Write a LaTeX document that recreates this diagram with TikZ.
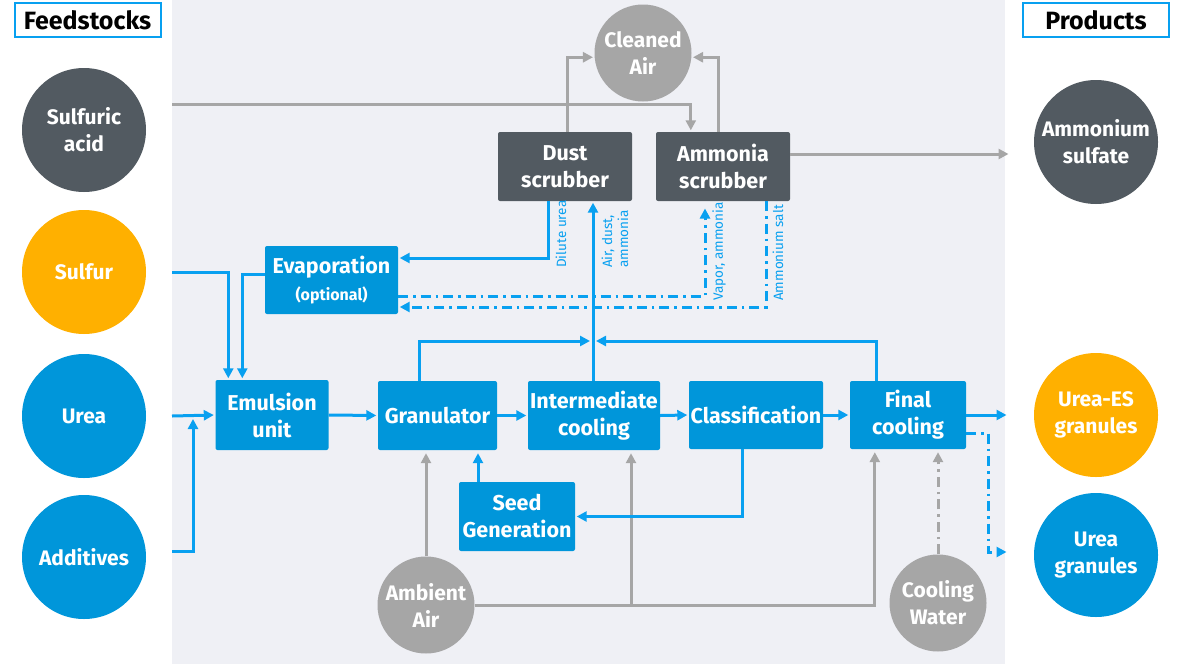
\documentclass[tikz,border=0pt]{standalone}
\usepackage{fontspec}
\setmainfont{Fira Sans}
\usetikzlibrary{arrows.meta,calc}
\definecolor{boxblue}{RGB}{0,150,218}
\definecolor{lineblue}{RGB}{8,160,240}
\definecolor{dgray}{RGB}{82,90,97}
\definecolor{lgray}{RGB}{166,166,166}
\definecolor{orng}{RGB}{255,176,0}
\definecolor{bgc}{RGB}{239,240,245}
\begin{document}
\begin{tikzpicture}[x=1pt,y=-1pt,
  box/.style={fill=boxblue, rounded corners=2pt, text=white, align=center, inner sep=0pt,
    font=\bfseries\fontsize{21.5}{27}\selectfont},
  dbox/.style={box, fill=dgray},
  circ/.style={circle, minimum size=124pt, inner sep=0pt, text=white, align=center,
    font=\bfseries\fontsize{21}{27}\selectfont},
  scirc/.style={circ, minimum size=97pt, fill=lgray},
  hdr/.style={draw=lineblue, line width=2pt, fill=white, minimum width=146pt, minimum height=34pt,
    inner sep=0pt, font=\bfseries\fontsize{25}{28}\selectfont},
  bline/.style={draw=lineblue, line width=3pt},
  barrow/.style={bline, shorten >=1.5pt, -{Triangle[length=10pt,width=10pt]}},
  bdd/.style={barrow, dash pattern=on 10pt off 5pt on 2.5pt off 5pt},
  garrow/.style={draw=lgray, line width=3pt, shorten >=1.5pt, -{Triangle[length=10pt,width=10pt]}},
  gdd/.style={garrow, dash pattern=on 10pt off 5pt on 2.5pt off 5pt},
  lbl/.style={text=lineblue, rotate=90, anchor=west, align=left, inner sep=0pt,
    font=\fontsize{13.5}{16}\selectfont}
]
\useasboundingbox (0,0) rectangle (1180,664);
\fill[white] (0,0) rectangle (1180,664);
\fill[bgc] (172,0) rectangle (1005,664);

% headers
\node[hdr] (feed) at (87.5,20) {Feedstocks};
\node[hdr] (prod) at (1096,20) {Products};

% feed circles
\node[circ, fill=dgray] (sacid) at (84,130) {Sulfuric\\acid};
\node[circ, fill=orng] (sulfur) at (84,272) {Sulfur};
\node[circ, fill=boxblue] (urea) at (84,416) {Urea};
\node[circ, fill=boxblue] (addit) at (84,557) {Additives};
% product circles
\node[circ, fill=dgray] (amsulf) at (1096,142) {Ammonium\\sulfate};
\node[circ, fill=orng] (ureaes) at (1096,415) {Urea-ES\\granules};
\node[circ, fill=boxblue] (ureagr) at (1096,555) {Urea\\granules};
% gray circles
\node[scirc] (clean) at (643,53) {Cleaned\\Air};
\node[scirc] (ambient) at (426,605) {Ambient\\Air};
\node[scirc] (cwater) at (938,603) {Cooling\\Water};

% boxes
\node[dbox, minimum width=134pt, minimum height=69pt] (dust) at (565,166.5) {Dust\\scrubber};
\node[dbox, minimum width=134pt, minimum height=69pt] (ammon) at (723,166.5) {Ammonia\\scrubber};
\node[box, minimum width=133pt, minimum height=68pt] (evap) at (331.5,280)
  {{\fontsize{21.5}{25}\selectfont Evaporation}\\{\fontsize{16}{19}\selectfont (optional)}};
\node[box, minimum width=113pt, minimum height=70pt] (emul) at (272,415) {Emulsion\\unit};
\node[box, minimum width=119pt, minimum height=69pt] (gran) at (437.5,415.5) {Granulator};
\node[box, minimum width=132pt, minimum height=69pt] (inter) at (594,415.5) {Intermediate\\cooling};
\node[box, minimum width=134pt, minimum height=68pt] (class) at (756,415) {Classification};
\node[box, minimum width=116pt, minimum height=68pt] (final) at (908,415) {Final\\cooling};
\node[box, minimum width=116pt, minimum height=69pt] (seed) at (517,516.5) {Seed\\Generation};

% coordinates
\coordinate (sa0) at (172,104);
\coordinate (s0) at (172,272);
\coordinate (u0) at (172,416);
\coordinate (a0) at (172,551);
\coordinate (a1) at (193,419);
\coordinate (asin) at (1010,154);
\coordinate (du) at (548,258);
\coordinate (ax) at (593,341);
\coordinate (vp) at (705,296);
\coordinate (vtop) at (705,207);
\coordinate (asl) at (766,307);
\coordinate (ue) at (1008,415);
\coordinate (ug) at (1008,552);
\coordinate (sd) at (478,482);

% gray connectors
\draw[garrow] (sa0) -| ($(ammon.north west)+(35,0)$);
\draw[garrow] ($(dust.north west)+(70,0)$) |- (clean.185);
\draw[garrow] ($(ammon.north west)+(63,0)$) |- (clean.355);
\draw[garrow] (ammon.east |- asin) -- (asin);
\draw[garrow, shorten >=3pt] (ambient.north) -- (gran.south -| ambient.north);
\draw[garrow, shorten >=3pt] (ambient.east) -| ($(final.south west)+(25,0)$);
\draw[garrow, shorten >=3pt] (ambient.east -| 631,0) -- (inter.south -| 631,0);
\draw[gdd, shorten >=3pt] (cwater.north) -- (final.south -| cwater.north);

% blue connectors
\draw[barrow] (dust.south -| du) -- (du) -- (evap.east |- du);
\draw[barrow] (inter.north -| ax) -- (dust.south -| ax);
\draw[barrow, shorten >=3pt] ($(gran.north west)+(42,0)$) |- (ax);
\draw[barrow, shorten >=3pt] ($(final.north west)+(27,0)$) |- (ax);
\draw[bdd] (evap.east |- vp) -- (vp) -- (vtop);
\draw[bdd] (ammon.south -| asl) -- (asl) -- (evap.east |- asl);
\draw[barrow] (s0) -| ($(emul.north west)+(13,0)$);
\draw[barrow] (evap.west |- 0,274) -| ($(emul.north west)+(27,0)$);
\draw[barrow] (u0) -- (emul.west);
\draw[barrow, shorten >=0pt] (a0) -| (a1);
\draw[barrow] (emul.east) -- (gran.west);
\draw[barrow] (gran.east) -- (inter.west);
\draw[barrow] (inter.east) -- (class.west);
\draw[barrow] (class.east) -- (final.west);
\draw[barrow] ($(class.south west)+(54,0)$) |- (seed.east);
\draw[barrow, shorten >=3pt] (sd) -- (sd |- gran.south);
\draw[barrow] (final.east) -- (ue);
\draw[bdd] (final.east |- 0,433) -- (988,433) |- (ug);

% labels
\node[lbl] (l1) at (561,268) {Dilute urea};
\node[lbl] (l2) at (615,268) {Air, dust,\\ammonia};
\node[lbl] (l3) at (719,301) {Vapor, ammonia};
\node[lbl] (l4) at (778,301) {Ammonium salt};
\end{tikzpicture}
\end{document}
